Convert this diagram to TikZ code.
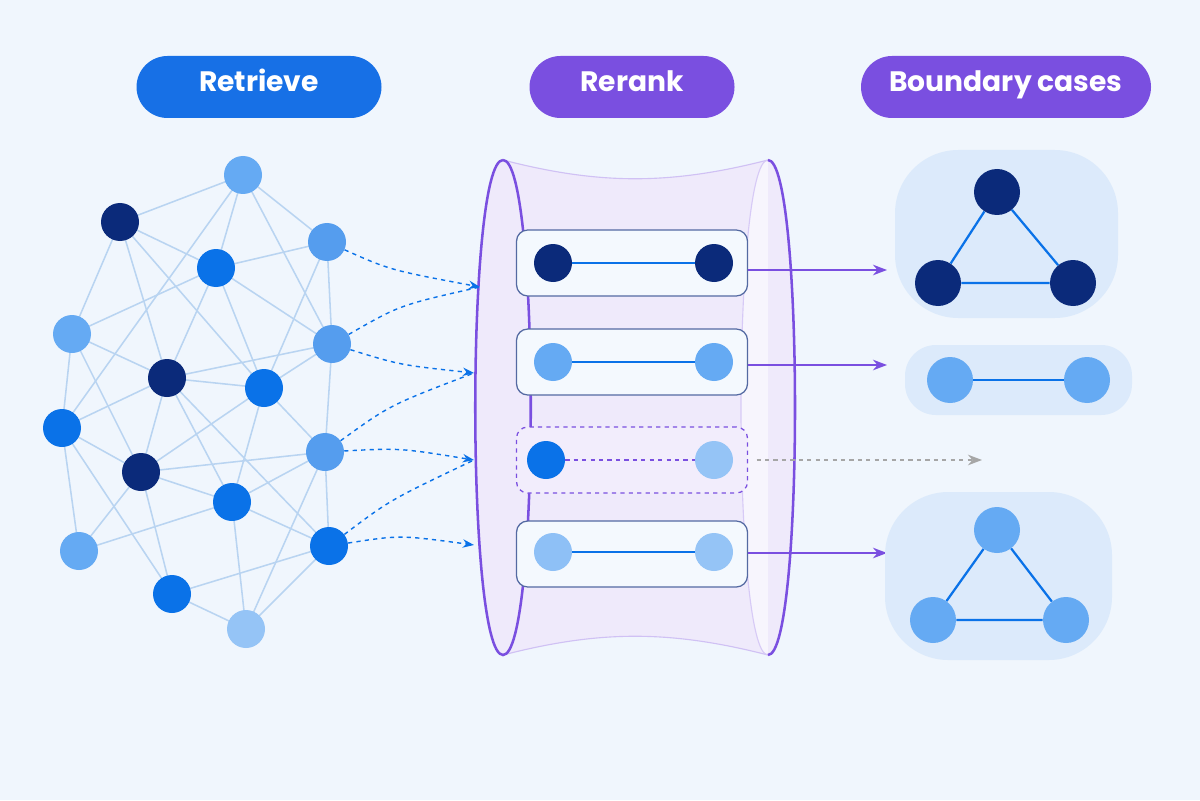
\documentclass[tikz,border=0pt]{standalone}
\usepackage{fontspec}
\setmainfont{Poppins}
\usetikzlibrary{arrows.meta}
\usetikzlibrary{calc}
\definecolor{bgc}{HTML}{F0F6FD}
\definecolor{ndark}{HTML}{0B2A7A}
\definecolor{nblue}{HTML}{0A72E8}
\definecolor{nmid}{HTML}{559DEE}
\definecolor{nlight}{HTML}{65AAF3}
\definecolor{npale}{HTML}{95C4F6}
\definecolor{edgec}{HTML}{B9D4F1}
\definecolor{pblue}{HTML}{1770E6}
\definecolor{ppurple}{HTML}{7A4FE0}
\definecolor{blobc}{HTML}{DCEAFB}
\begin{document}
\begin{tikzpicture}[x=0.025cm, y=-0.025cm,
        dot/.style={circle, inner sep=0pt, minimum size=38*0.025cm},
        bigdot/.style={circle, inner sep=0pt, minimum size=46*0.025cm},
        pill_style/.style={rounded corners=31*0.025cm, minimum height=62*0.025cm, text=white, text height=1.6ex, text depth=0.45ex, font=\fontsize{20}{24}\selectfont\bfseries},
        net_edge/.style={draw=edgec, line width=1.1pt},
        link_style/.style={draw=nblue, line width=1.6pt},
        feed_style/.style={draw=nblue, dashed, line width=1pt, -{Stealth[length=8pt]}},
        out_style/.style={draw=ppurple, line width=1.5pt, -{Stealth[length=10pt]}},
        row_style/.style={draw=ndark!70, rounded corners=8pt, line width=0.9pt, minimum width=231*0.025cm, minimum height=66*0.025cm}]
        
        \fill [bgc] (0,0) rectangle (1200,800);
        
        % headers
        \node [pill_style, fill=pblue, minimum width=245*0.025cm](hRet) at (259,87) {Retrieve};
        \node [pill_style, fill=ppurple, minimum width=205*0.025cm](hRer) at (632,87) {Rerank};
        \node [pill_style, fill=ppurple, minimum width=290*0.025cm](hBnd) at (1006,87) {Boundary cases};
        
        % network
        \foreach \n/\x/\y in {a/243/175, b/120/222, c/327/242, d/216/268, e/72/334, f/332/344, g/167/378, h/264/388, i/62/428, j/325/452, k/141/472, l/232/502, m/79/551, n/329/546, o/172/594, p/246/629}
            \coordinate (\n) at (\x,\y);
        \foreach \s/\t in {a/b, a/c, a/d, a/f, a/i, b/e, b/d, b/g, b/h, c/d, c/f, c/h, d/e, d/g, d/h, d/f, e/g, e/i, e/k, f/g, f/h, f/j, g/h, g/i, g/k, g/l, g/n, h/j, h/k, h/l, i/k, i/m, i/o, j/k, j/l, j/n, j/p, k/l, k/m, k/o, l/m, l/n, l/p, n/o, n/p, o/p}
            \draw [net_edge] (\s) -- (\t);
        \foreach \n/\c in {a/nlight, b/ndark, c/nmid, d/nblue, e/nlight, f/nmid, g/ndark, h/nblue, i/nblue, j/nmid, k/ndark, l/nblue, m/nlight, n/nblue, o/nblue, p/npale}
            \node [dot, fill=\c] (N\n) at (\n) {};
        
        % rerank cylinder
        \fill [ppurple!12] (503,160) .. controls (600,185) and (670,185) .. (768,160)
            .. controls (804,160) and (804,655) .. (768,655)
            .. controls (670,630) and (600,630) .. (503,655)
            .. controls (466,655) and (466,160) .. (503,160);
        \fill [ppurple!6] (768,160) .. controls (732,160) and (732,655) .. (768,655) -- cycle;
        \draw [ppurple!35, line width=0.8pt] (503,160) .. controls (600,185) and (670,185) .. (768,160);
        \draw [ppurple!35, line width=0.8pt] (503,655) .. controls (600,630) and (670,630) .. (768,655);
        \draw [ppurple!30, line width=0.8pt] (768,160) .. controls (732,160) and (732,655) .. (768,655);
        \draw [ppurple, line width=1.8pt] (503,160) .. controls (540,160) and (540,655) .. (503,655)
            .. controls (466,655) and (466,160) .. (503,160);
        \draw [ppurple, line width=1.8pt] (768,160) .. controls (804,160) and (804,655) .. (768,655);
        
        % candidate rows
        \node [row_style, fill=bgc!70](r1) at (632,263) {};
        \node [row_style, fill=bgc!70](r2) at (632,362) {};
        \node [row_style, draw=ppurple, dashed, fill=ppurple!10](r3) at (632,460) {};
        \node [row_style, fill=bgc!70](r4) at (632,554) {};
        \node [dot, fill=ndark](r1a) at (553,263) {};
        \node [dot, fill=ndark](r1b) at (714,263) {};
        \node [dot, fill=nlight](r2a) at (553,362) {};
        \node [dot, fill=nlight](r2b) at (714,362) {};
        \node [dot, fill=nblue](r3a) at (546,460) {};
        \node [dot, fill=npale](r3b) at (714,460) {};
        \node [dot, fill=npale!85!nlight](r4a) at (553,552) {};
        \node [dot, fill=npale](r4b) at (714,552) {};
        \draw [link_style] (r1a) -- (r1b);
        \draw [link_style] (r2a) -- (r2b);
        \draw [draw=ppurple, dashed, line width=1.5pt] (r3a) -- (r3b);
        \draw [link_style] (r4a) -- (r4b);
        
        % feeds into rerank
        \coordinate (in1) at (480,287);
        \coordinate (in2) at (474,373);
        \coordinate (in3) at (474,460);
        \coordinate (in4) at (474,545);
        \draw [feed_style] (Nc) .. controls (390,270) .. (in1);
        \draw [feed_style, -] (Nf) .. controls (400,305) .. (in1);
        \draw [feed_style] (Nf) .. controls (400,365) .. (in2);
        \draw [feed_style, -] (Nj) .. controls (390,405) .. (in2);
        \draw [feed_style] (Nj) .. controls (400,448) .. (in3);
        \draw [feed_style, -] (Nn) .. controls (390,500) .. (in3);
        \draw [feed_style] (Nn) .. controls (400,535) .. (in4);
        
        % outputs
        \coordinate (o1) at (887,270);
        \coordinate (o2) at (887,365);
        \coordinate (o3) at (982,460);
        \coordinate (o4) at (887,553);
        \draw [out_style] (r1.east |- o1) -- (o1);
        \draw [out_style] (r2.east |- o2) -- (o2);
        \draw [draw=gray!70, dashed, line width=1.3pt, -{Stealth[length=10pt]}] ([xshift=6pt]r3.east |- o3) -- (o3);
        \draw [out_style] (r4.east |- o4) -- (o4);
        
        % boundary cases
        \fill [blobc, rounded corners=45pt] (895,150) rectangle (1118,318);
        \fill [blobc, rounded corners=22pt] (905,345) rectangle (1132,415);
        \fill [blobc, rounded corners=45pt] (885,492) rectangle (1112,660);
        \node [bigdot, fill=ndark](t1a) at (997,192) {};
        \node [bigdot, fill=ndark](t1b) at (938,283) {};
        \node [bigdot, fill=ndark](t1c) at (1073,283) {};
        \draw [link_style] (t1a) -- (t1b) -- (t1c) -- (t1a);
        \node [bigdot, fill=nlight](p1) at (950,380) {};
        \node [bigdot, fill=nlight](p2) at (1087,380) {};
        \draw [link_style] (p1) -- (p2);
        \node [bigdot, fill=nlight](t2a) at (997,530) {};
        \node [bigdot, fill=nlight](t2b) at (933,620) {};
        \node [bigdot, fill=nlight](t2c) at (1066,620) {};
        \draw [link_style] (t2a) -- (t2b) -- (t2c) -- (t2a);
        
        \end{tikzpicture}
\end{document}
